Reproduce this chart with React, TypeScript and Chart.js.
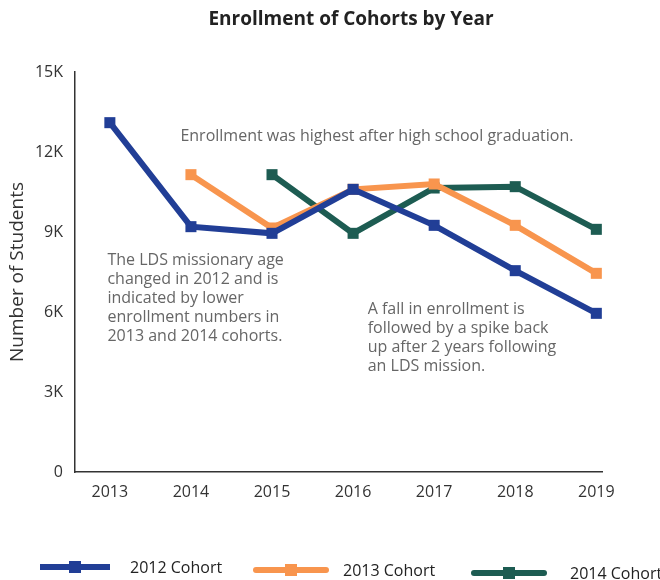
import React, { useEffect, useRef } from 'react';
import { Chart, registerables } from 'chart.js';

Chart.register(...registerables);

// ---- data ----
const years = [2013, 2014, 2015, 2016, 2017, 2018, 2019];
const cohort2012 = [13100, 9200, 8950, 10600, 9250, 7550, 5950];
const cohort2013 = [null, 11150, 9150, 10600, 10800, 9250, 7450];
const cohort2014 = [null, null, 11150, 8950, 10650, 10700, 9100];
const seriesNames = ['2012 Cohort', '2013 Cohort', '2014 Cohort'];
const seriesColors = ['#213E96', '#F8954E', '#1D5C52'];
const yTickValues = [0, 3000, 6000, 9000, 12000, 15000];
const chartTitle = 'Enrollment of Cohorts by Year';
const yAxisTitle = 'Number of Students';
const noteTexts = [
  ['Enrollment was highest after high school graduation.'],
  ['The LDS missionary age', 'changed in 2012 and is', 'indicated by lower', 'enrollment numbers in', '2013 and 2014 cohorts.'],
  ['A fall in enrollment is', 'followed by a spike back', 'up after 2 years following', 'an LDS mission.'],
];
// anchors of notes in data coordinates (year, students)
const noteAnchors = [
  { x: 2013.87, y: 12580 },
  { x: 2012.97, y: 7930 },
  { x: 2016.18, y: 6080 },
];

const FONT = '"Open Sans", "Noto Sans", sans-serif';

const toPoints = (vals: (number | null)[]) =>
  years.map((yr, i) => ({ x: yr, y: vals[i] })).filter((p) => p.y !== null);

const decorPlugin = {
  id: 'decor',
  afterDraw(chart: any) {
    const ctx = chart.ctx;
    const xs = chart.scales.x;
    const ys = chart.scales.y;
    ctx.save();
    // title
    ctx.fillStyle = '#222';
    ctx.font = `bold 19px ${FONT}`;
    ctx.textAlign = 'center';
    ctx.textBaseline = 'middle';
    ctx.fillText(chartTitle, 351, 20);

    // notes
    ctx.fillStyle = '#666';
    ctx.font = `16px ${FONT}`;
    ctx.textAlign = 'left';
    noteTexts.forEach((lines, i) => {
      const px = xs.getPixelForValue(noteAnchors[i].x);
      const py = ys.getPixelForValue(noteAnchors[i].y);
      lines.forEach((ln, j) => ctx.fillText(ln, px, py + j * 19));
    });

    // legend
    const legendX = [40, 256, 474];
    const legendY = [567, 570, 573];
    const textX = [130, 343, 570];
    chart.data.datasets.forEach((ds: any, i: number) => {
      const x0 = legendX[i];
      const y0 = legendY[i];
      ctx.strokeStyle = ds.borderColor;
      ctx.lineWidth = 6;
      ctx.lineCap = i === 0 ? 'butt' : 'round';
      ctx.beginPath();
      ctx.moveTo(x0, y0);
      ctx.lineTo(x0 + 70, y0);
      ctx.stroke();
      ctx.fillStyle = ds.borderColor;
      ctx.fillRect(x0 + 35 - 6, y0 - 6, 12, 12);
      ctx.fillStyle = '#222';
      ctx.font = `16px ${FONT}`;
      ctx.textAlign = 'left';
      ctx.textBaseline = 'middle';
      ctx.fillText(ds.label, textX[i], y0 + 1);
    });
    ctx.restore();
  },
};

export default function App() {
  const ref = useRef<HTMLCanvasElement | null>(null);

  useEffect(() => {
    document.body.style.margin = '0';
    const seriesVals = [cohort2012, cohort2013, cohort2014];
    const chart = new Chart(ref.current as HTMLCanvasElement, {
      type: 'line',
      data: {
        datasets: seriesVals.map((vals, i) => ({
          label: seriesNames[i],
          data: toPoints(vals) as any,
          borderColor: seriesColors[i],
          backgroundColor: seriesColors[i],
          borderWidth: 6,
          pointStyle: 'rect',
          pointRadius: 7.8,
          pointBorderWidth: 0,
          pointHoverRadius: 7.8,
          tension: 0,
          fill: false,
        })),
      },
      options: {
        responsive: false,
        animation: false,
        layout: { padding: { top: 72, right: 58, bottom: 0, left: 0 } },
        plugins: {
          legend: { display: false },
          title: { display: false },
          tooltip: { enabled: false },
        },
        scales: {
          x: {
            type: 'linear',
            min: 2012.57,
            max: 2019.07,
            afterBuildTicks: (s: any) => {
              s.ticks = years.map((v) => ({ value: v }));
            },
            afterFit: (s: any) => {
              s.height = 108;
            },
            grid: { drawOnChartArea: false, drawTicks: false },
            border: { display: true, color: '#333', width: 1.5 },
            ticks: {
              includeBounds: false,
              padding: 11,
              color: '#333',
              font: { family: FONT, size: 16 },
              callback: (v: any) => String(v),
            },
          },
          y: {
            type: 'linear',
            min: 0,
            max: 15000,
            afterBuildTicks: (s: any) => {
              s.ticks = yTickValues.map((v) => ({ value: v }));
            },
            afterFit: (s: any) => {
              s.width = 75;
            },
            grid: { drawOnChartArea: false, drawTicks: false },
            border: { display: true, color: '#333', width: 1.5 },
            ticks: {
              padding: 12,
              color: '#333',
              font: { family: FONT, size: 16 },
              callback: (v: any) => (v === 0 ? '0' : `${v / 1000}K`),
            },
            title: {
              display: true,
              text: yAxisTitle,
              color: '#333',
              font: { family: FONT, size: 19 },
              padding: { top: 6, bottom: 0 },
            },
          },
        },
      },
      plugins: [decorPlugin],
    });
    return () => chart.destroy();
  }, []);

  return (
    <div style={{ width: 660, height: 580, position: 'relative' }}>
      <canvas ref={ref} width={660} height={580} />
    </div>
  );
}
